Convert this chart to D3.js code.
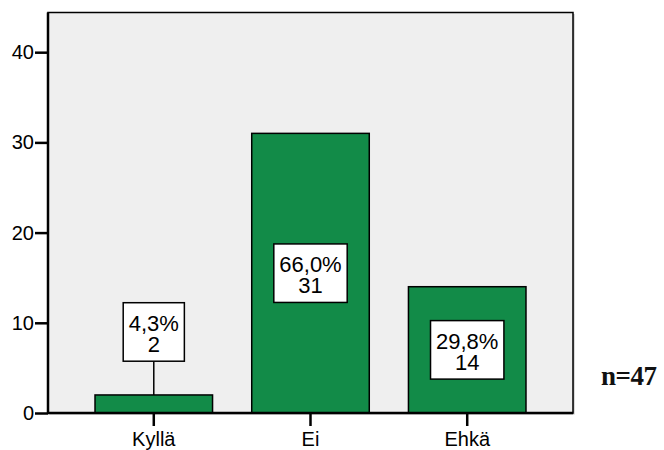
<!DOCTYPE html>
<html>
<head>
<meta charset="utf-8">
<script src="https://cdn.jsdelivr.net/npm/d3@7"></script>
<style>
  body { margin: 0; background: #fff; }
</style>
</head>
<body>
<svg width="664" height="450"></svg>
<script>
var categories = ['Kyllä', 'Ei', 'Ehkä'];
var counts = [2, 31, 14];
var percents = ['4,3%', '66,0%', '29,8%'];
var yTicks = [0, 10, 20, 30, 40];
var total = 47;

var svg = d3.select('svg');
var sans = '"Liberation Sans", Arial, sans-serif';

var plotLeft = 48, plotRight = 573, plotTop = 12.5, plotBottom = 413;

var x = d3.scaleBand()
    .domain(categories)
    .range([plotLeft, plotRight])
    .paddingInner(0.25)
    .paddingOuter(0.3);

var y = d3.scaleLinear()
    .domain([0, 44.4])
    .range([plotBottom, plotTop]);

// plot background + frame (with a little grey shadow)
svg.append('rect')
    .attr('x', plotLeft + 1.5)
    .attr('y', plotTop + 1.5)
    .attr('width', plotRight - plotLeft)
    .attr('height', plotBottom - plotTop)
    .attr('fill', '#b8b8b8');

svg.append('rect')
    .attr('x', plotLeft)
    .attr('y', plotTop)
    .attr('width', plotRight - plotLeft)
    .attr('height', plotBottom - plotTop)
    .attr('fill', '#efefef')
    .attr('stroke', '#000')
    .attr('stroke-width', 1.5);

// bars
svg.selectAll('rect.bar')
    .data(counts)
    .enter()
    .append('rect')
    .attr('class', 'bar')
    .attr('x', function(d, i){ return x(categories[i]); })
    .attr('y', function(d){ return y(d); })
    .attr('width', x.bandwidth())
    .attr('height', function(d){ return y(0) - y(d); })
    .attr('fill', '#128b48')
    .attr('stroke', '#000')
    .attr('stroke-width', 1.5);

// axes
var yAxis = svg.append('g')
    .attr('transform', 'translate(' + plotLeft + ',0)')
    .call(d3.axisLeft(y).tickValues(yTicks).tickSize(13).tickPadding(1).tickSizeOuter(0));
yAxis.select('.domain').attr('d', 'M0,' + plotTop + 'V' + plotBottom).attr('stroke-width', 2.5);
yAxis.selectAll('.tick line').attr('stroke-width', 2.5);
yAxis.selectAll('text').attr('fill', '#000')
    .style('font-size', '20px').style('font-family', sans);

var xAxis = svg.append('g')
    .attr('transform', 'translate(0,' + plotBottom + ')')
    .call(d3.axisBottom(x).tickSize(13).tickPadding(6).tickSizeOuter(0));
xAxis.select('.domain').attr('d', 'M' + plotLeft + ',0H' + plotRight).attr('stroke-width', 2.5);
xAxis.selectAll('.tick line').attr('stroke-width', 2.5);
xAxis.selectAll('text').attr('fill', '#000')
    .style('font-size', '20px').style('font-family', sans);

// value labels
var boxH = 58.5;
svg.selectAll('g.lab')
    .data(counts)
    .enter()
    .append('g')
    .attr('class', 'lab')
    .each(function(d, i){
        var g = d3.select(this);
        var cx = x(categories[i]) + x.bandwidth() / 2;
        var inside = (y(0) - y(d)) > boxH + 10;
        var cy = inside ? (y(0) + y(d)) / 2 : y(d) - 63;

        if (!inside) {
            g.append('line')
                .attr('x1', cx).attr('x2', cx)
                .attr('y1', cy + boxH / 2).attr('y2', y(d))
                .attr('stroke', '#000')
                .attr('stroke-width', 1.5);
        }

        var rect = g.append('rect')
            .attr('fill', '#fff')
            .attr('stroke', '#000')
            .attr('stroke-width', 1.5);

        var t = g.append('text')
            .attr('text-anchor', 'middle')
            .attr('fill', '#000')
            .style('font-size', '22px')
            .style('font-family', sans);
        t.append('tspan').attr('x', cx).attr('y', cy - 1).text(percents[i]);
        t.append('tspan').attr('x', cx).attr('y', cy + 20).text(d);

        var w = t.node().getBBox().width + 11;
        rect.attr('x', cx - w / 2)
            .attr('y', cy - boxH / 2)
            .attr('width', w)
            .attr('height', boxH);
    });

// sample size
svg.append('text')
    .attr('x', 601)
    .attr('y', 385)
    .attr('fill', '#111')
    .style('font-family', '"Liberation Serif", "Times New Roman", serif')
    .style('font-weight', 'bold')
    .style('font-size', '27px')
    .style('letter-spacing', '-0.5px')
    .text('n=' + total);
</script>
</body>
</html>
